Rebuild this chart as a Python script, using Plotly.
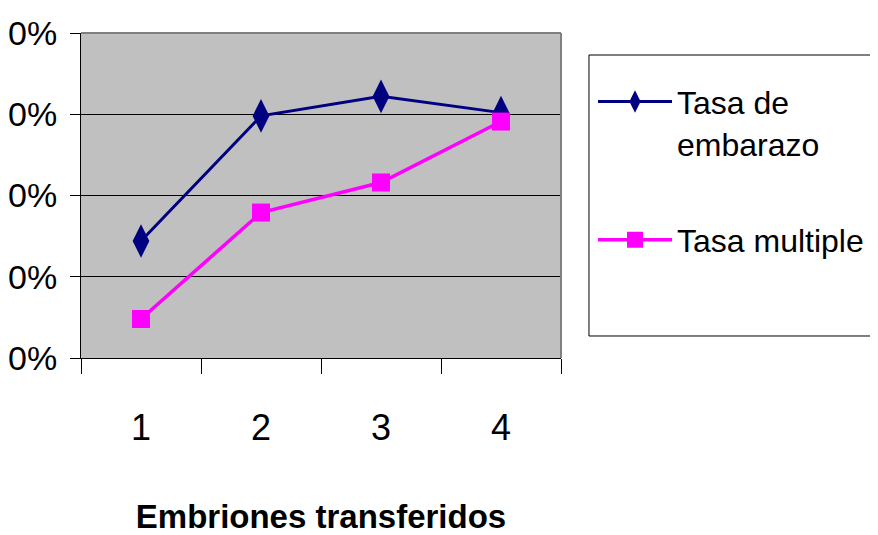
import plotly.graph_objects as go

categories = ["1", "2", "3", "4"]
tasa_embarazo = [0.144, 0.298, 0.322, 0.302]
tasa_multiple = [0.048, 0.179, 0.216, 0.291]
y_ticks = [0, 0.1, 0.2, 0.3, 0.4]
y_tick_labels = ["0%", "10%", "20%", "30%", "40%"]

FONT = "Liberation Sans, Arial, sans-serif"

fig = go.Figure()
fig.add_trace(go.Scatter(
    x=categories, y=tasa_embarazo, name="Tasa de<br>embarazo",
    mode="lines+markers", legendgroup="a",
    line=dict(color="#000080", width=3),
    marker=dict(symbol="diamond-tall", size=24, color="#000080"),
))
fig.add_trace(go.Scatter(
    x=categories, y=tasa_multiple, name="Tasa multiple",
    mode="lines+markers", legendgroup="b",
    line=dict(color="#FF00FF", width=3.5),
    marker=dict(symbol="square", size=18, color="#FF00FF"),
))

fig.update_layout(
    width=870, height=527,
    margin=dict(l=73, r=317, t=25, b=177, autoexpand=False),
    paper_bgcolor="white",
    plot_bgcolor="#C0C0C0",
    font=dict(family=FONT, size=32, color="black"),
    showlegend=True,
    legend=dict(
        x=1.0667, y=0.8734, xanchor="left", yanchor="top",
        bgcolor="rgba(0,0,0,0)", borderwidth=0,
        itemwidth=74, valign="top",
        font=dict(family=FONT, size=32, color="black"),
        tracegroupgap=52,
    ),
    shapes=[
        dict(type="rect", xref="paper", yref="paper",
             x0=1.0583, x1=1.7, y0=0.0677, y1=0.9323,
             line=dict(color="black", width=1), fillcolor="white", layer="below"),
        dict(type="line", xref="paper", yref="paper",
             x0=0, x1=1, y0=1, y1=1, line=dict(color="#808080", width=2)),
        dict(type="line", xref="paper", yref="paper",
             x0=1, x1=1, y0=0, y1=1, line=dict(color="#808080", width=2)),
    ],
)

fig.update_xaxes(
    type="category", range=[-0.5, 3.5],
    showline=True, linecolor="black", linewidth=1,
    ticks="outside", ticklen=15, tickcolor="black", tickwidth=1,
    tickson="boundaries", showgrid=False,
    ticklabelstandoff=38,
    tickfont=dict(family=FONT, size=36),
    title=dict(text="<b>Embriones transferidos</b>", standoff=58,
               font=dict(family=FONT, size=33)),
)
fig.update_yaxes(
    range=[0, 0.4], tickvals=y_ticks, ticktext=y_tick_labels,
    showline=True, linecolor="black", linewidth=1,
    ticks="outside", ticklen=10, tickcolor="black", tickwidth=1,
    showgrid=True, gridcolor="black", gridwidth=1, zeroline=False,
    ticklabelstandoff=6,
    tickfont=dict(family=FONT, size=34),
)

fig.write_html("out.html")
